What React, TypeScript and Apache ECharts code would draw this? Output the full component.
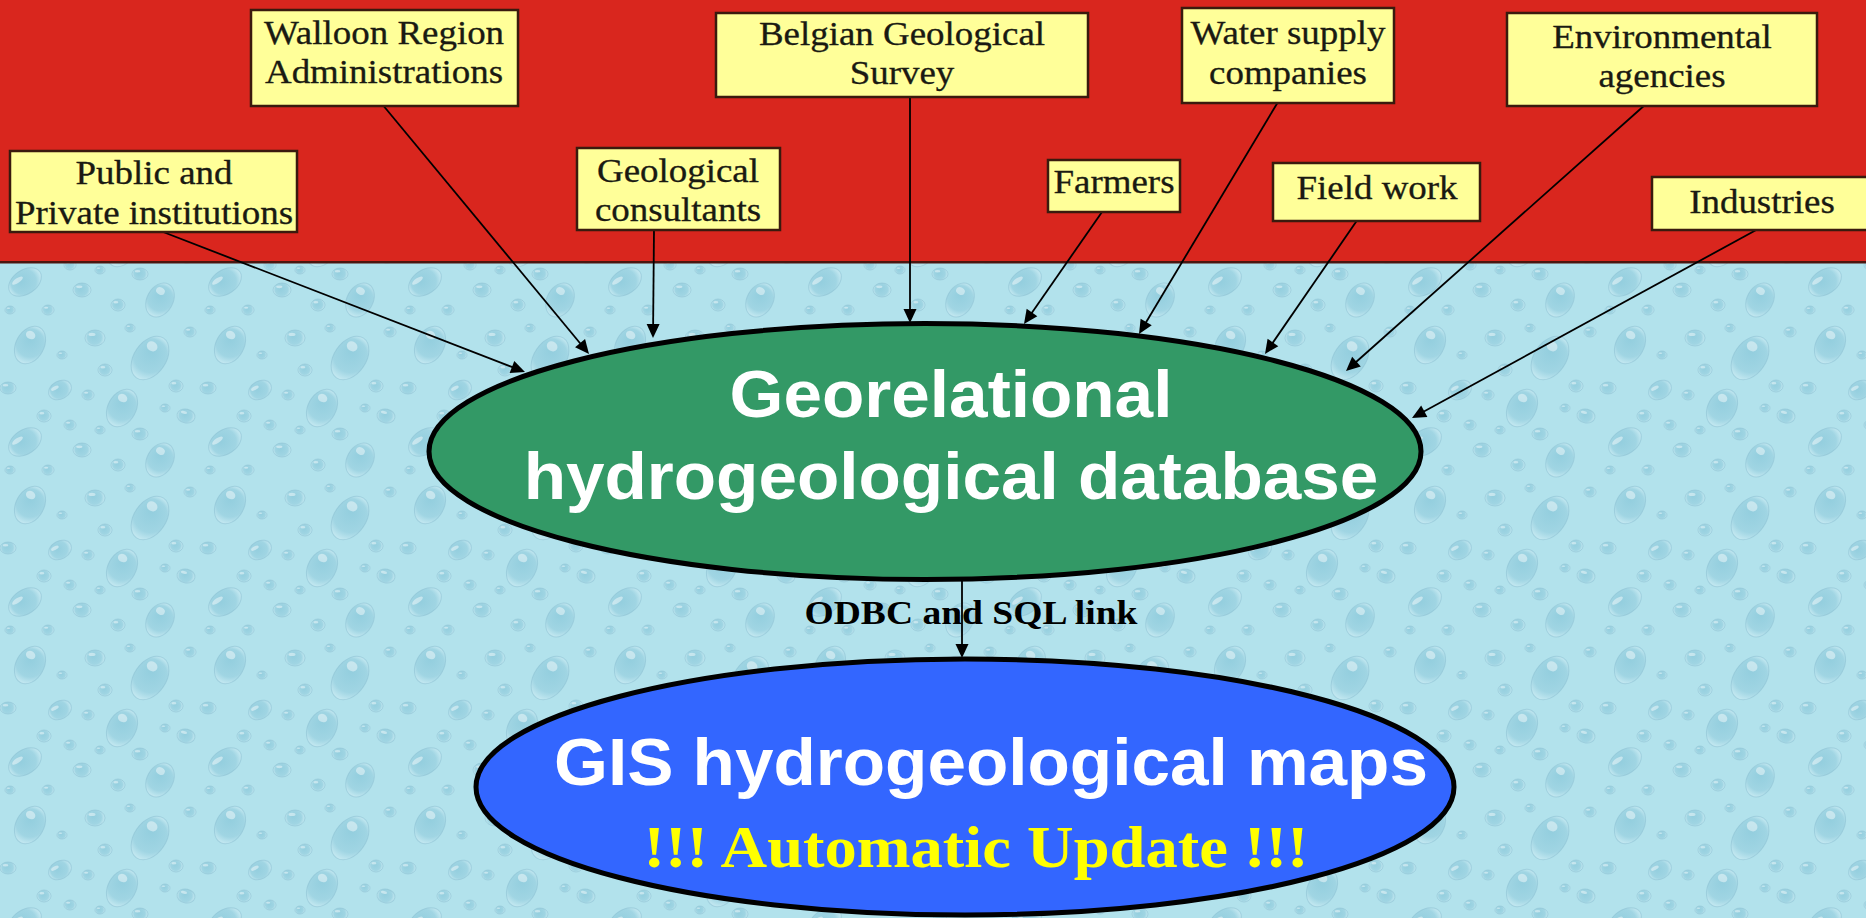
import React, { useEffect, useRef } from "react";
import * as echarts from "echarts";

const W = 1866;
const H = 918;

// Data sources feeding the database
const sourceLabels = [
  "Public and\nPrivate institutions",
  "Walloon Region\nAdministrations",
  "Geological\nconsultants",
  "Belgian Geological\nSurvey",
  "Farmers",
  "Water supply\ncompanies",
  "Field work",
  "Environmental\nagencies",
  "Industries",
];
// box extent: [left, top, right, bottom]
const sourceBoxes = [
  [10, 151, 297, 232],
  [251, 10, 518, 106],
  [577, 148, 780, 230],
  [716, 13, 1088, 97],
  [1048, 160, 1180, 212],
  [1182, 8, 1394, 103],
  [1273, 163, 1480, 221],
  [1507, 13, 1817, 106],
  [1652, 177, 1872, 230],
];
// label centre inside each box: [x, y]
const labelCenters = [
  [154, 193],
  [384, 52.5],
  [678, 190.5],
  [902, 53.5],
  [1114, 182],
  [1288, 53],
  [1377, 188],
  [1662, 56.5],
  [1762, 202],
];
// arrows: from source box to the database ellipse (tip)
const arrowFrom = [
  [158, 230],
  [382, 104],
  [654, 230],
  [910, 97],
  [1102, 212],
  [1278, 102],
  [1358, 219],
  [1646, 104],
  [1758, 229],
];
const arrowTo = [
  [525, 372],
  [589, 354],
  [653, 338],
  [910, 323],
  [1024, 324],
  [1139, 334],
  [1265, 354],
  [1346, 371],
  [1412, 418],
];

const hubLines = ["Georelational", "hydrogeological database"];
const mapsTitle = "GIS hydrogeological maps";
const updateNote = "!!! Automatic Update !!!";
const linkLabel = "ODBC and SQL link";
// ellipses: [cx, cy, rx, ry]
const ellipses = [
  [925, 451.5, 496, 128],
  [965, 787, 489, 128],
];
const linkArrow = [962, 581, 962, 658];
const linkLabelPos = [971, 613];

// water-drop texture tile: [x, y, rx, ry, rotation]
const TILE_W = 200;
const TILE_H = 160;
const dropTile = [
  [30, 25, 14, 20, 0.5],
  [95, 18, 10, 8, 0],
  [150, 38, 16, 24, 0.6],
  [186, 96, 9, 7, 0.2],
  [60, 70, 12, 9, -0.5],
  [122, 88, 14, 20, 0.5],
  [25, 122, 18, 12, -0.6],
  [82, 130, 9, 7, 0],
  [160, 140, 13, 18, 0.5],
  [105, 50, 7, 6, 0],
  [44, 96, 7, 6, 0],
  [140, 114, 8, 6, 0],
  [8, 68, 8, 6, 0],
  [176, 66, 7, 6, 0],
  [70, 105, 6, 5, 0],
  [118, 145, 7, 6, 0],
  [62, 35, 5, 4, 0],
  [88, 75, 6, 5, 0],
  [190, 12, 6, 5, 0],
  [130, 8, 5, 4, 0],
  [10, 150, 5, 4, 0],
  [48, 150, 6, 5, 0],
  [100, 110, 5, 4, 0],
  [165, 88, 5, 4, 0],
];

function makeTile(): HTMLCanvasElement {
  const c = document.createElement("canvas");
  c.width = TILE_W;
  c.height = TILE_H;
  const g = c.getContext("2d")!;
  g.fillStyle = "#B2E2EC";
  g.fillRect(0, 0, TILE_W, TILE_H);
  for (const [x, y, rx, ry, rot] of dropTile) {
    for (const ox of [-TILE_W, 0, TILE_W]) {
      for (const oy of [-TILE_H, 0, TILE_H]) {
        const cx = x + ox;
        const cy = y + oy;
        const r = Math.max(rx, ry) + 4;
        if (cx + r < 0 || cx - r > TILE_W || cy + r < 0 || cy - r > TILE_H) continue;
        g.save();
        g.translate(cx, cy);
        g.rotate(rot);
        const grad = g.createRadialGradient(-rx * 0.2, -ry * 0.3, 0, 0, 0, Math.max(rx, ry));
        grad.addColorStop(0, "#93CEDE");
        grad.addColorStop(0.7, "#A0D5E3");
        grad.addColorStop(1, "#C6EAF2");
        g.fillStyle = grad;
        g.beginPath();
        g.ellipse(0, 0, rx, ry, 0, 0, Math.PI * 2);
        g.fill();
        g.strokeStyle = "rgba(130,185,205,0.45)";
        g.lineWidth = 1;
        g.stroke();
        g.fillStyle = "rgba(255,255,255,0.45)";
        g.beginPath();
        g.ellipse(-rx * 0.3, -ry * 0.45, rx * 0.35, ry * 0.2, 0, 0, Math.PI * 2);
        g.fill();
        g.restore();
      }
    }
  }
  return c;
}

export default function App() {
  const ref = useRef<HTMLDivElement>(null);
  useEffect(() => {
    document.body.style.margin = "0";
    if (!ref.current) return;
    const chart = echarts.init(ref.current, undefined, { renderer: "svg" });

    const arrowData = arrowFrom.map((f, i) => [f[0], f[1], arrowTo[i][0], arrowTo[i][1]]);
    arrowData.push(linkArrow);

    let tile: HTMLCanvasElement | null = null;
    try {
      tile = makeTile();
    } catch (e) {
      tile = null;
    }

    const graphics: any[] = [];
    if (tile) {
      graphics.push({
        type: "rect",
        z: 0,
        shape: { x: 0, y: 262, width: W, height: H - 262 },
        style: { fill: { image: tile, repeat: "repeat", imageWidth: TILE_W, imageHeight: TILE_H } },
      });
    }
    graphics.push(
      {
        type: "rect",
        z: 0,
        shape: { x: 0, y: 0, width: W, height: 262 },
        style: { fill: "#D9261E" },
      },
      {
        type: "rect",
        z: 0,
        shape: { x: 0, y: 261, width: W, height: 2.5 },
        style: { fill: "#4a1610" },
      }
    );

    const option: any = {
      animation: false,
      backgroundColor: "#AEE0EA",
      grid: { left: 0, right: 0, top: 0, bottom: 0 },
      xAxis: { type: "value", min: 0, max: W, show: false },
      yAxis: { type: "value", min: 0, max: H, inverse: true, show: false },
      graphic: graphics,
      series: [
        {
          type: "custom",
          name: "arrows",
          coordinateSystem: "cartesian2d",
          z: 3,
          clip: false,
          encode: { x: [0, 2], y: [1, 3] },
          data: arrowData,
          renderItem: (params: any, api: any) => {
            const p0 = api.coord([api.value(0), api.value(1)]);
            const p1 = api.coord([api.value(2), api.value(3)]);
            const dx = p1[0] - p0[0];
            const dy = p1[1] - p0[1];
            const len = Math.sqrt(dx * dx + dy * dy);
            const ux = dx / len;
            const uy = dy / len;
            const hl = 14;
            const hw = 6.5;
            const bx = p1[0] - ux * hl;
            const by = p1[1] - uy * hl;
            return {
              type: "group",
              children: [
                {
                  type: "line",
                  shape: { x1: p0[0], y1: p0[1], x2: bx + ux * 2, y2: by + uy * 2 },
                  style: { stroke: "#000", lineWidth: 1.8 },
                },
                {
                  type: "polygon",
                  shape: {
                    points: [
                      [p1[0], p1[1]],
                      [bx - uy * hw, by + ux * hw],
                      [bx + uy * hw, by - ux * hw],
                    ],
                  },
                  style: { fill: "#000" },
                },
              ],
            };
          },
        },
        {
          type: "custom",
          name: "sources",
          coordinateSystem: "cartesian2d",
          z: 4,
          encode: { x: [0, 2], y: [1, 3] },
          data: sourceBoxes,
          renderItem: (params: any, api: any) => {
            const i = params.dataIndex;
            const p0 = api.coord([api.value(0), api.value(1)]);
            const p1 = api.coord([api.value(2), api.value(3)]);
            const lc = api.coord(labelCenters[i]);
            return {
              type: "group",
              children: [
                {
                  type: "rect",
                  shape: { x: p0[0], y: p0[1], width: p1[0] - p0[0], height: p1[1] - p0[1] },
                  style: { fill: "#FFFF99", stroke: "#3a1a0e", lineWidth: 2.5 },
                },
                {
                  type: "text",
                  x: lc[0],
                  y: lc[1],
                  scaleX: 1.12,
                  style: {
                    text: sourceLabels[i],
                    fill: "#1a1a12",
                    stroke: "#1a1a12",
                    lineWidth: 0.3,
                    fontFamily: "Liberation Serif",
                    fontSize: 33,
                    lineHeight: 39.5,
                    align: "center",
                    verticalAlign: "middle",
                    textAlign: "center",
                    textVerticalAlign: "middle",
                  },
                },
              ],
            };
          },
        },
        {
          type: "custom",
          name: "targets",
          coordinateSystem: "cartesian2d",
          z: 2,
          encode: { x: 0, y: 1 },
          data: ellipses,
          renderItem: (params: any, api: any) => {
            const i = params.dataIndex;
            const c = api.coord([api.value(0), api.value(1)]);
            const sz = api.size([api.value(2), api.value(3)]);
            const children: any[] = [
              {
                type: "ellipse",
                shape: { cx: c[0], cy: c[1], rx: sz[0], ry: sz[1] },
                style: { fill: i === 0 ? "#339966" : "#3366FF", stroke: "#000", lineWidth: 5 },
              },
            ];
            const sans = {
              fill: "#fff",
              fontFamily: "Liberation Sans",
              fontWeight: "bold",
              fontSize: 66,
              align: "center",
              verticalAlign: "middle",
              textAlign: "center",
              textVerticalAlign: "middle",
            };
            if (i === 0) {
              children.push({
                type: "text",
                x: c[0] + 26,
                y: c[1] - 57,
                scaleX: 1.05,
                style: { ...sans, text: hubLines[0] },
              });
              children.push({
                type: "text",
                x: c[0] + 26,
                y: c[1] + 25,
                scaleX: 1.05,
                style: { ...sans, text: hubLines[1] },
              });
            } else {
              children.push({
                type: "text",
                x: c[0] + 26,
                y: c[1] - 25,
                scaleX: 1.05,
                style: { ...sans, fontSize: 66, text: mapsTitle },
              });
              children.push({
                type: "text",
                x: c[0] + 11,
                y: c[1] + 60,
                scaleX: 1.094,
                style: {
                  ...sans,
                  fill: "#FFFF00",
                  fontFamily: "Liberation Serif",
                  fontSize: 59,
                  text: updateNote,
                },
              });
            }
            return { type: "group", children };
          },
        },
        {
          type: "custom",
          name: "link",
          coordinateSystem: "cartesian2d",
          z: 2.5,
          encode: { x: 0, y: 1 },
          data: [linkLabelPos],
          renderItem: (params: any, api: any) => {
            const c = api.coord([api.value(0), api.value(1)]);
            return {
              type: "text",
              x: c[0],
              y: c[1],
              scaleX: 1.105,
              style: {
                text: linkLabel,
                fill: "#000",
                fontFamily: "Liberation Serif",
                fontWeight: "bold",
                fontSize: 34,
                align: "center",
                verticalAlign: "middle",
                textAlign: "center",
                textVerticalAlign: "middle",
              },
            };
          },
        },
      ],
    };
    chart.setOption(option);
    return () => chart.dispose();
  }, []);
  return <div ref={ref} style={{ width: "100vw", height: "100vh" }} />;
}
